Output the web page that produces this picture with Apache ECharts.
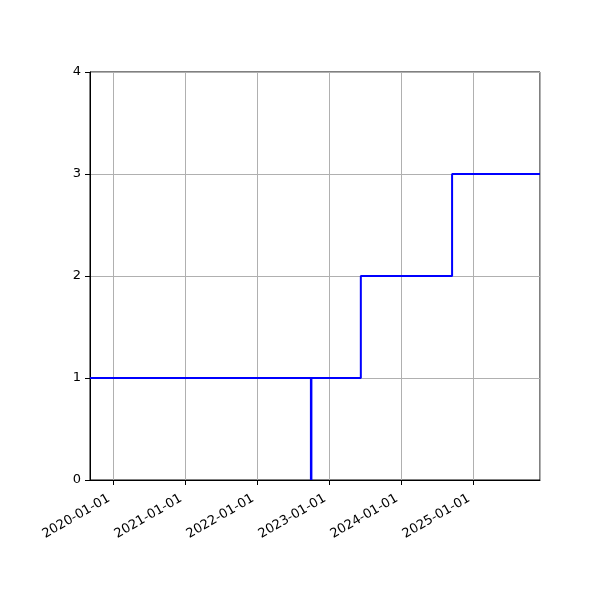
<!DOCTYPE html>
<html>
<head>
<meta charset="utf-8">
<script src="https://cdn.jsdelivr.net/npm/echarts@6/dist/echarts.min.js"></script>
<style>html,body{margin:0;padding:0;background:#fff}#c{width:600px;height:600px}</style>
</head>
<body>
<div id="c"></div>
<script>
// Axis range
const xMin = '2019-09-05';
const xMax = '2025-12-05';
// Step series
const stepDates = ['2019-09-05', '2023-06-10', '2024-09-15', '2025-12-05'];
const stepValues = [1, 2, 3, 3];
// Vertical marker series
const markDates = ['2022-10-01', '2022-10-01'];
const markValues = [0, 1];
const yTicks = [0, 1, 2, 3, 4];

const font = 'DejaVu Sans';
const chart = echarts.init(document.getElementById('c'), null, {renderer: 'canvas'});
chart.setOption({
  animation: false,
  backgroundColor: '#ffffff',
  grid: {left: 90, right: 60, top: 72, bottom: 120, show: true, borderColor: '#000', borderWidth: 1, backgroundColor: 'transparent'},
  xAxis: {
    type: 'time',
    min: xMin,
    max: xMax,
    minInterval: 365 * 86400000,
    maxInterval: 366 * 86400000,
    axisLine: {show: true, lineStyle: {color: '#000', width: 1}},
    axisTick: {show: true, length: 5, lineStyle: {color: '#000', width: 1}},
    axisLabel: {
      rotate: 30, margin: 15, padding: [0, 5, 0, 0], color: '#000', fontFamily: font, fontSize: 13,
      formatter: '{yyyy}-{MM}-{dd}', showMinLabel: false, showMaxLabel: false,
      hideOverlap: false
    },
    splitLine: {show: true, lineStyle: {color: '#b0b0b0', width: 1}}
  },
  yAxis: {
    type: 'value',
    min: yTicks[0],
    max: yTicks[yTicks.length - 1],
    interval: 1,
    axisLine: {show: true, lineStyle: {color: '#000', width: 1}},
    axisTick: {show: true, length: 5, lineStyle: {color: '#000', width: 1}},
    axisLabel: {margin: 9, color: '#000', fontFamily: font, fontSize: 13},
    splitLine: {show: true, lineStyle: {color: '#b0b0b0', width: 1}}
  },
  series: [
    {
      type: 'line', step: 'end', showSymbol: false, symbol: 'none',
      data: stepDates.map((d, i) => [d, stepValues[i]]),
      lineStyle: {color: '#0000ff', width: 2}
    },
    {
      type: 'line', showSymbol: false, symbol: 'none',
      data: markDates.map((d, i) => [d, markValues[i]]),
      lineStyle: {color: '#0000ff', width: 2.5}
    }
  ]
});
</script>
</body>
</html>
